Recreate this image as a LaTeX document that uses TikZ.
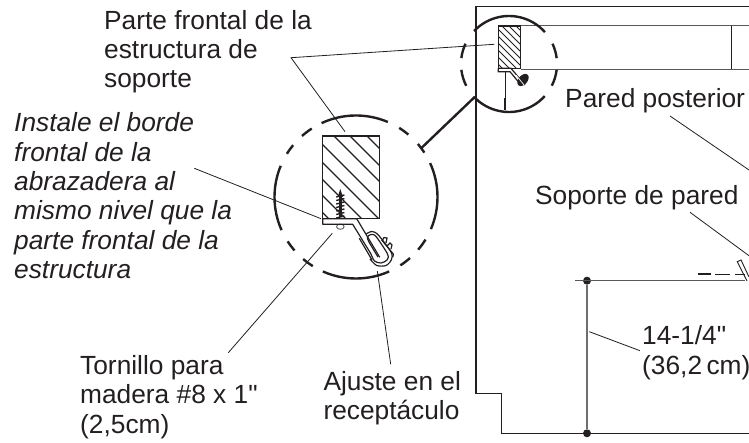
\documentclass[tikz,border=0pt]{standalone}
\usepackage{fontspec}
\setmainfont{Liberation Sans}[Ligatures=TeXOff]
\definecolor{ink}{HTML}{231F20}
\tikzset{
  lbl/.style={inner sep=0pt,anchor=base west,align=left,text=ink,font=\fontsize{26.3}{29.4}\selectfont},
  leader/.style={ink,line width=0.8pt},
  cutline/.style={ink,line width=2.4pt},
  part/.style={ink,line width=1.2pt},
  wall/.style={ink!75,line width=1.4pt},
  dot/.style={circle,fill=ink,inner sep=0pt,minimum size=8pt}
}
\begin{document}
\begin{tikzpicture}[x=1pt,y=-1pt]
  \useasboundingbox (0,0) rectangle (749,443);
  % outline of the room
  \draw [part] (749,6.7) -- (476,6.7) -- (476,393.3) -- (501.7,393.3) -- (501.7,433.3) -- (749,433.3);
  \draw [wall] (521,25.7) -- (749,25.7);
  \draw [wall] (521,69.3) -- (749,69.3);
  \draw [part] (731.7,25.7) -- (731.7,69.3);

  % large detail
  \coordinate (B) at (356,197);
  \foreach \a/\b in {67/115,122.9/131.5,140.5/148,157.5/204,213/221,229.6/238,246/294,303/311.5,319.7/328.5,336.8/384.6,50/58,33/40.6}
    \draw [cutline] (B) ++(-\a:81.5) arc [start angle=-\a,end angle=-\b,radius=81.5];
  \begin{scope}
    \clip (322.3,136) rectangle (379.5,218.5);
    \foreach \c in {110,127,143,160,178,198,214,231}
      \draw [part] (\c+100,100) -- (\c+230,230);
  \end{scope}
  \draw [part] (322.3,136) rectangle (379.5,218.5);
  % screw
  \fill [ink] (340.3,189) -- (343,197) -- (337.6,197) -- cycle;
  \draw [ink,line width=3.4pt] (340.3,195) -- (340.3,217);
  \foreach \y in {196,199.5,...,217}
    \draw [ink,line width=1.4pt] (336.2,\y+1) -- (344.4,\y-1);
  \draw [ink!70,line width=0.9pt] (340.3,226.7) ellipse [x radius=3.8,y radius=2.6];
  % clip and hook
  \draw [part,line join=round] (379.7,257.3) -- (356.7,218.7) -- (322.7,218.7) -- (322.7,224.3) -- (352.7,224.3) -- (371,254);
  \draw [part] (359.3,238.3) -- (372,260);
  \draw [part] plot [smooth] coordinates {(371,254) (374.5,261) (381,263) (387,260) (387.5,254) (376,236.5) (371,234.5) (367.5,237) (369,242) (378,257)};
  \draw [part] plot [smooth] coordinates {(370,259) (376.7,265.5) (386,265.5) (391.5,259.5) (391,252) (378.3,235) (372,231.5) (366,234)};
  \draw [part] (381.7,240) -- (393.3,254) -- (393,257);
  \draw [part] (382,241) -- (384,237.5) -- (387,238) -- (386,243);
  \draw [part] (387,246) -- (390,243) -- (392,245) -- (391,249);

  % small detail
  \coordinate (S) at (509,64);
  \foreach \a/\b in {41.6/136.7,155/173,187/207,224/318,-26.9/-7,7/25}
    \draw [cutline] (S) ++(-\a:48) arc [start angle=-\a,end angle=-\b,radius=48];
  \begin{scope}
    \clip (498.3,26) rectangle (520.7,68.3);
    \foreach \c in {434,441,...,497}
      \draw [ink,line width=0.8pt] (\c+20,20) -- (\c+80,80);
  \end{scope}
  \draw [part] (498.3,26) rectangle (520.7,68.3);
  \draw [part] (498.3,68.3) -- (498.3,71.7) -- (510,71.7) -- (521,85);
  \draw [part] (498.3,68.3) -- (511,68.3) -- (525,85);
  \fill [ink,rotate around={50:(523,80)}] (523,80) ellipse [x radius=7,y radius=4.5];
  \draw [white,line width=0.7pt] (516,75) -- (524,85);
  \draw [ink,line width=0.8pt] (505,72) -- (505,98);
  \draw [ink,line width=2pt] (505,98) -- (505,110);

  % leader between the two details
  \coordinate (linkA) at (420.7,148.7);
  \coordinate (linkB) at (475,96.7);
  \draw [cutline] (linkA) -- (linkB);

  % dimension
  \node [dot] (dimTop) at (587,280.7) {};
  \node [dot] (dimBot) at (587,433.3) {};
  \draw [ink!65,line width=1.2pt] (dimTop) -- (dimBot);
  \coordinate (lineW) at (575,280.7);
  \coordinate (lineE) at (745,280.7);
  \draw [wall] (lineW) -- (lineE);

  % wall bracket
  \draw [ink,line width=0.9pt] (749,277) -- (741,260) -- (737.3,261.7) -- (747,281);
  \draw [ink,line width=2.4pt] (698.3,274) -- (710.7,274);
  \draw [ink,line width=0.9pt] (715,274) -- (730,274);
  \draw [ink,line width=0.9pt] (735,274) -- (745,274);

  % labels
  \node [lbl] (parte) at (104,88) {Parte frontal de la\\estructura de\\soporte};
  \node [lbl,font=\fontsize{26.3}{29.4}\selectfont\itshape] (instale) at (14,278.7) {Instale el borde\\frontal de la\\abrazadera al\\mismo nivel que la\\parte frontal de la\\estructura};
  \node [lbl] (tornillo) at (80,433.3) {Tornillo para\\madera \#8 x 1"\\(2,5cm)};
  \node [lbl] (ajuste) at (323.3,419.6) {Ajuste en el\\receptáculo};
  \node [lbl] (posterior) at (565,107.3) {Pared posterior};
  \node [lbl] (soporte) at (535,204.3) {Soporte de pared};
  \node [lbl] (medida) at (642,374) {14-1/4"\\(36,2\,cm)};

  % leaders
  \coordinate (parteL) at (291,57.7);
  \coordinate (parteS) at (494.3,44.3);
  \coordinate (parteB) at (345,131.7);
  \draw [leader] (parteS) -- (parteL) -- (parteB);
  \coordinate (instaleL) at (194.3,168.3);
  \coordinate (instaleB) at (321,218.7);
  \draw [leader] (instaleL) -- (instaleB);
  \coordinate (tornilloL) at (228.3,352.7);
  \coordinate (tornilloB) at (332.3,233.3);
  \draw [leader] (tornilloL) -- (tornilloB);
  \coordinate (ajusteL) at (390.7,364.3);
  \coordinate (ajusteB) at (377.3,271);
  \draw [leader] (ajusteL) -- (ajusteB);
  \coordinate (posteriorL) at (670,116);
  \coordinate (posteriorE) at (749,170);
  \draw [leader] (posteriorL) -- (posteriorE);
  \coordinate (soporteL) at (690,212.3);
  \coordinate (soporteE) at (749,255.7);
  \draw [leader] (soporteL) -- (soporteE);
  \coordinate (medidaL) at (640,350.7);
  \coordinate (medidaE) at (589.3,331.7);
  \draw [leader] (medidaL) -- (medidaE);
\end{tikzpicture}
\end{document}
